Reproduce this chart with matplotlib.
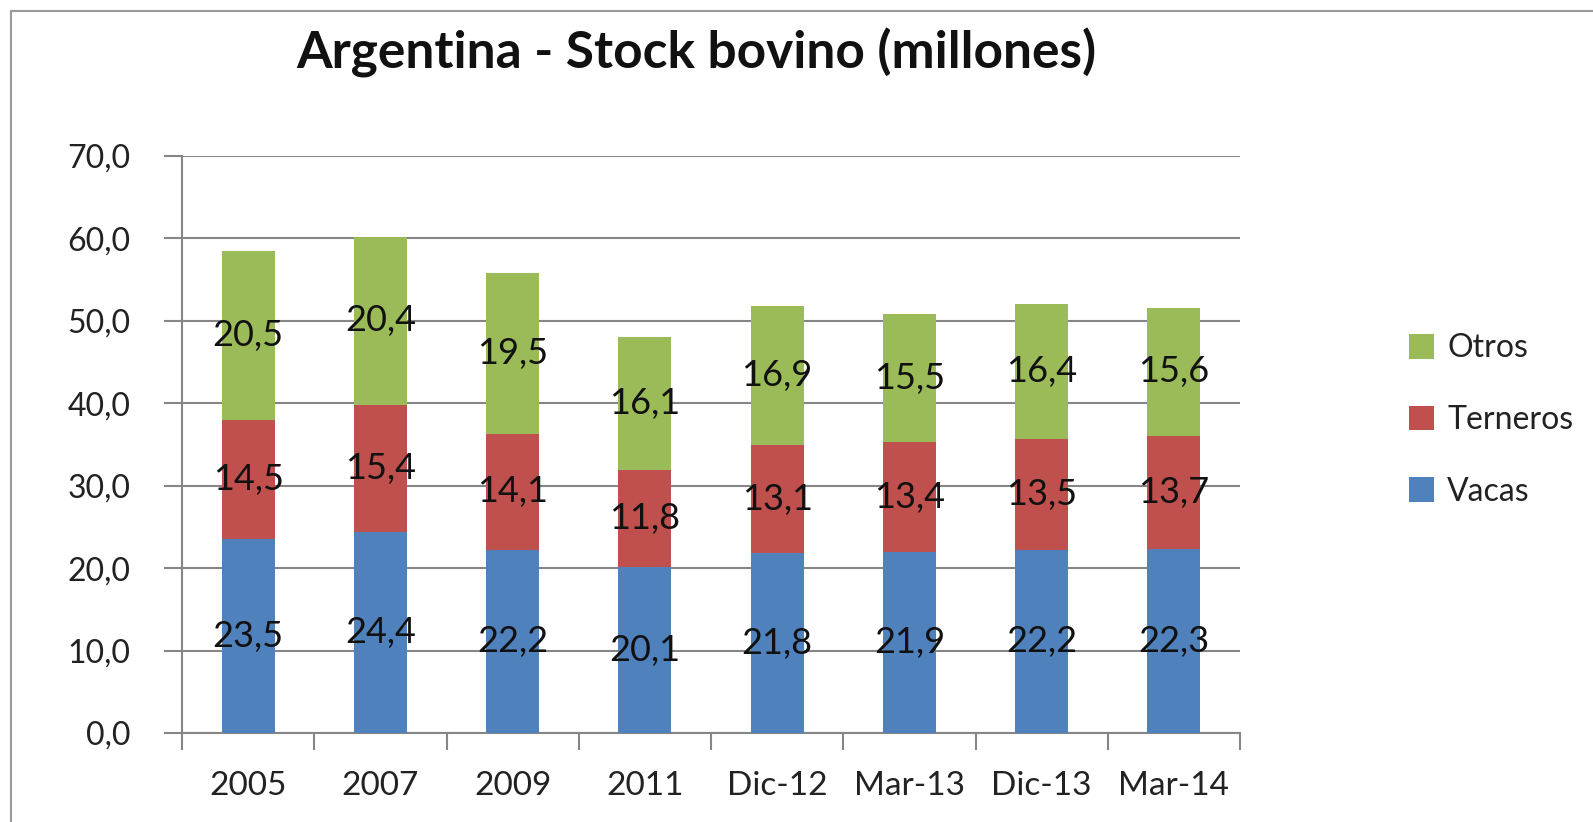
import numpy as np
import matplotlib.pyplot as plt
from matplotlib.patches import Rectangle

categories = ["2005", "2007", "2009", "2011", "Dic-12", "Mar-13", "Dic-13", "Mar-14"]
vacas = [23.5, 24.4, 22.2, 20.1, 21.8, 21.9, 22.2, 22.3]
terneros = [14.5, 15.4, 14.1, 11.8, 13.1, 13.4, 13.5, 13.7]
otros = [20.5, 20.4, 19.5, 16.1, 16.9, 15.5, 16.4, 15.6]

series = [("Vacas", vacas, "#4F81BD"),
          ("Terneros", terneros, "#C0504D"),
          ("Otros", otros, "#9BBB59")]

plt.rcParams['font.family'] = ['Lato', 'DejaVu Sans']

W, H = 1593, 822
fig = plt.figure(figsize=(W / 100, H / 100), dpi=100)
fig.patches.append(Rectangle((11 / W, -0.1), 1.2, 1 - 11 / H + 0.1,
                             transform=fig.transFigure, fill=False,
                             edgecolor="#9a9a9a", linewidth=1.5))

ax = fig.add_axes([182 / W, 1 - 733 / H, (1240 - 182) / W, (733 - 156) / H])

x = np.arange(len(categories))
bottom = np.zeros(len(categories))
handles = {}
for name, vals, color in series:
    vals = np.array(vals)
    bars = ax.bar(x, vals, width=0.4, bottom=bottom, color=color, zorder=3)
    handles[name] = bars
    for xi, b, v in zip(x, bottom, vals):
        ax.text(xi, b + v / 2, f"{v:.1f}".replace(".", ","), ha="center",
                va="center", fontsize=26, color="#111111", zorder=4)
    bottom += vals

ax.set_xlim(-0.5, len(categories) - 0.5)
ax.set_ylim(0, 70)
yt = np.arange(0, 71, 10)
ax.set_yticks(yt)
ax.set_yticklabels([f"{v:.1f}".replace(".", ",") for v in yt])
ax.set_xticks(x)
ax.set_xticklabels(categories)
ax.set_xticks(np.arange(-0.5, len(categories)), minor=True)
ax.tick_params(axis="x", which="major", length=0, pad=27, labelsize=24, labelcolor="#222222")
ax.tick_params(axis="x", which="minor", length=12, width=1.5, color="#868686")
ax.tick_params(axis="y", length=13, width=1.5, color="#868686", pad=24,
               labelsize=23, labelcolor="#222222")
ax.grid(axis="y", color="#868686", linewidth=1.5, zorder=0)
for s in ["top", "right"]:
    ax.spines[s].set_visible(False)
for s in ["left", "bottom"]:
    ax.spines[s].set_color("#868686")
    ax.spines[s].set_linewidth(1.5)

fig.text(696 / W, 1 - 53 / H, "Argentina - Stock bovino (millones)", ha="center",
         va="center", fontsize=37, fontweight="bold", color="#111111")

names = ["Otros", "Terneros", "Vacas"]
fig.legend([handles[n] for n in names], names, loc="center left",
           bbox_to_anchor=(1380 / W, 1 - 420 / H), frameon=False, fontsize=23,
           handlelength=0.8, handleheight=0.8, handletextpad=0.4,
           labelspacing=1.3, labelcolor="#222222")

fig.savefig("out.png", dpi=100)
